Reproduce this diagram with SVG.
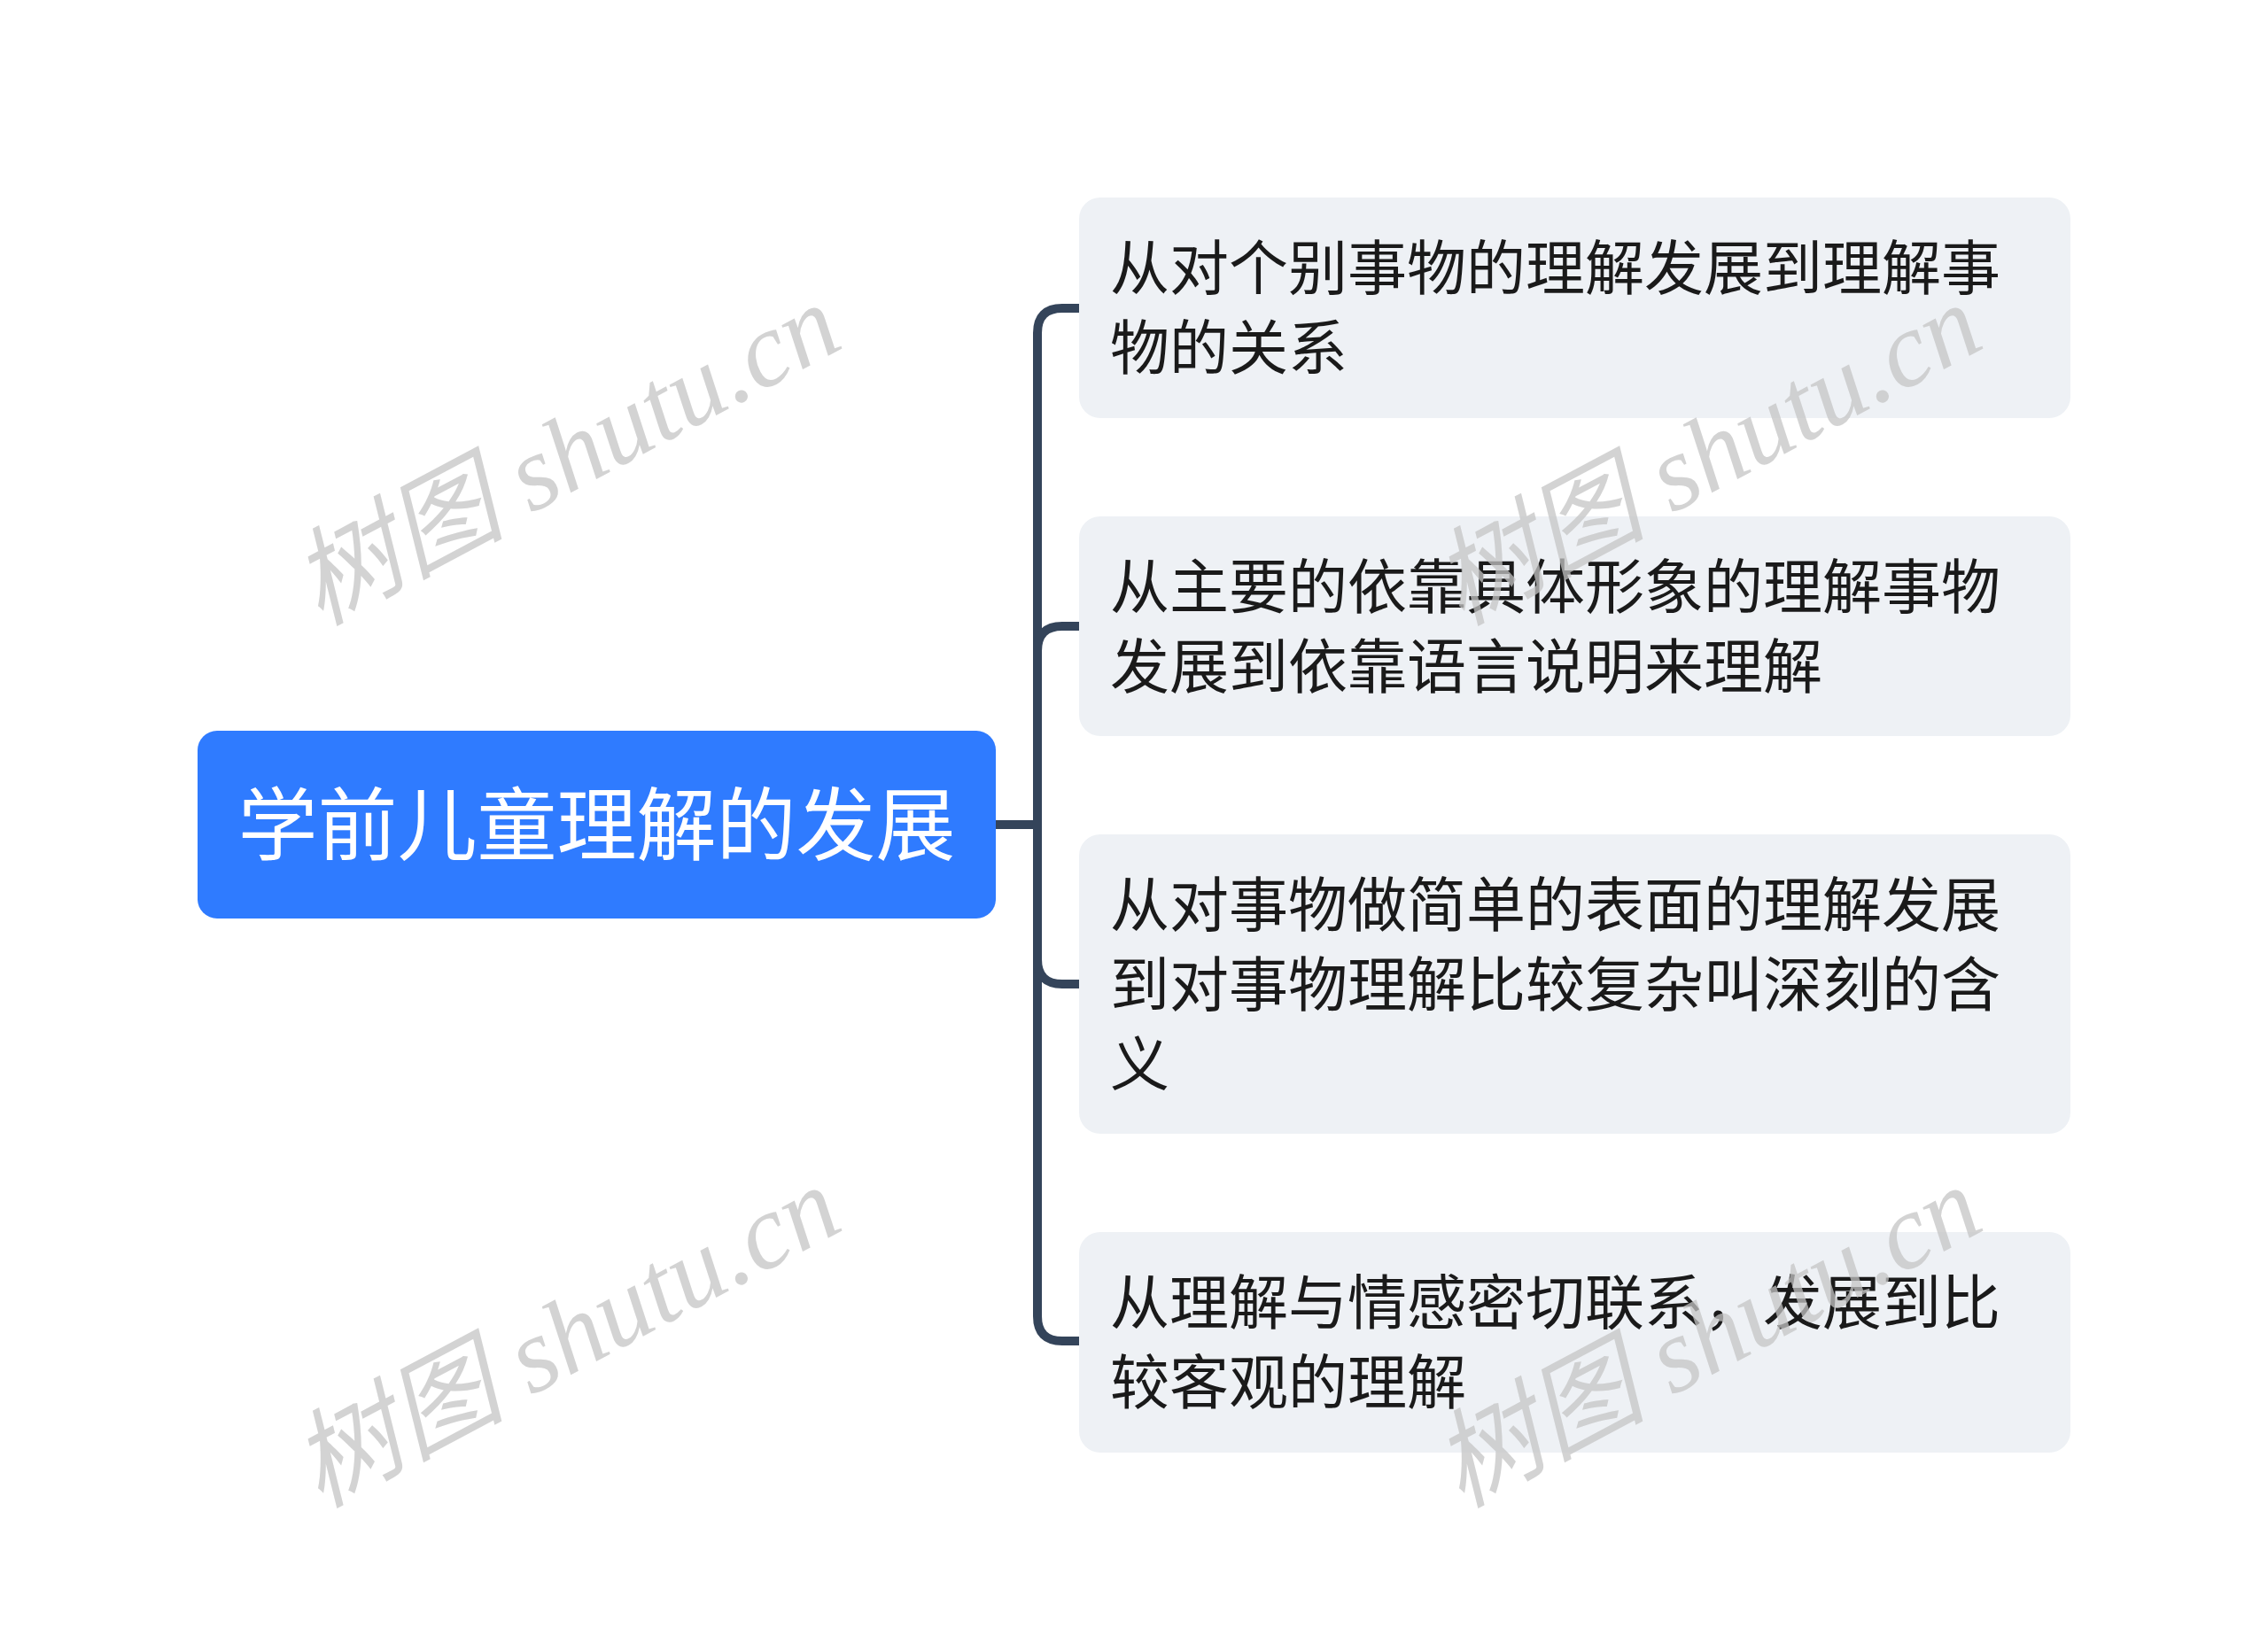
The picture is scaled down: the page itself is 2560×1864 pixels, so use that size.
<svg xmlns="http://www.w3.org/2000/svg" width="2560" height="1864" viewBox="0 0 2560 1864">
<style>
.root{fill:#2F7BFF}
.rt{fill:#FFFFFF;font-family:"Noto Sans CJK SC","Noto Sans",sans-serif;font-size:90px}
.child{fill:#EEF1F5}
.ct{fill:#1A1A1A;font-family:"Noto Sans CJK SC","Noto Sans",sans-serif;font-size:67px}
.conn{fill:none;stroke:#34445A;stroke-width:10;stroke-linecap:butt;stroke-linejoin:round}
.wm{fill:#C4C4C4;fill-opacity:0.75;font-family:"Liberation Serif","Noto Sans CJK SC",serif;font-style:italic;font-size:120px}
</style>
<rect width="2560" height="1864" fill="#FFFFFF"/>
<g id="connectors">
<path class="conn" d="M1124,931 H1171"/>
<path class="conn" d="M1218,348 H1199 Q1171,348 1171,376 V1486 Q1171,1514 1199,1514 H1218"/>
<path class="conn" d="M1171,735 Q1171,707 1199,707 H1218"/>
<path class="conn" d="M1171,1083 Q1171,1111 1199,1111 H1218"/>
</g>
<g id="root">
<rect class="root" x="223" y="825" width="901" height="212" rx="22"/>
<text class="rt" x="673.5" y="964" text-anchor="middle">学前儿童理解的发展</text>
</g>
<g id="child1">
<rect class="child" x="1218" y="223" width="1119" height="249" rx="24"/>
<text class="ct" x="1253" y="327">从对个别事物的理解发展到理解事</text>
<text class="ct" x="1253" y="417">物的关系</text>
</g>
<g id="child2">
<rect class="child" x="1218" y="583" width="1119" height="248" rx="24"/>
<text class="ct" x="1253" y="687">从主要的依靠具体形象的理解事物</text>
<text class="ct" x="1253" y="777">发展到依靠语言说明来理解</text>
</g>
<g id="child3">
<rect class="child" x="1218" y="942" width="1119" height="338" rx="24"/>
<text class="ct" x="1253" y="1046">从对事物做简单的表面的理解发展</text>
<text class="ct" x="1253" y="1136">到对事物理解比较复杂叫深刻的含</text>
<text class="ct" x="1253" y="1226">义</text>
</g>
<g id="child4">
<rect class="child" x="1218" y="1391" width="1119" height="249" rx="24"/>
<text class="ct" x="1253" y="1495">从理解与情感密切联系，发展到比</text>
<text class="ct" x="1253" y="1585">较客观的理解</text>
</g>
<g id="watermarks">
<text class="wm" x="639" y="513" text-anchor="middle" dominant-baseline="central" transform="rotate(-28 639 513)">树图 shutu.cn</text>
<text class="wm" x="1927" y="513" text-anchor="middle" dominant-baseline="central" transform="rotate(-28 1927 513)">树图 shutu.cn</text>
<text class="wm" x="639" y="1509" text-anchor="middle" dominant-baseline="central" transform="rotate(-28 639 1509)">树图 shutu.cn</text>
<text class="wm" x="1927" y="1509" text-anchor="middle" dominant-baseline="central" transform="rotate(-28 1927 1509)">树图 shutu.cn</text>
</g>
</svg>
